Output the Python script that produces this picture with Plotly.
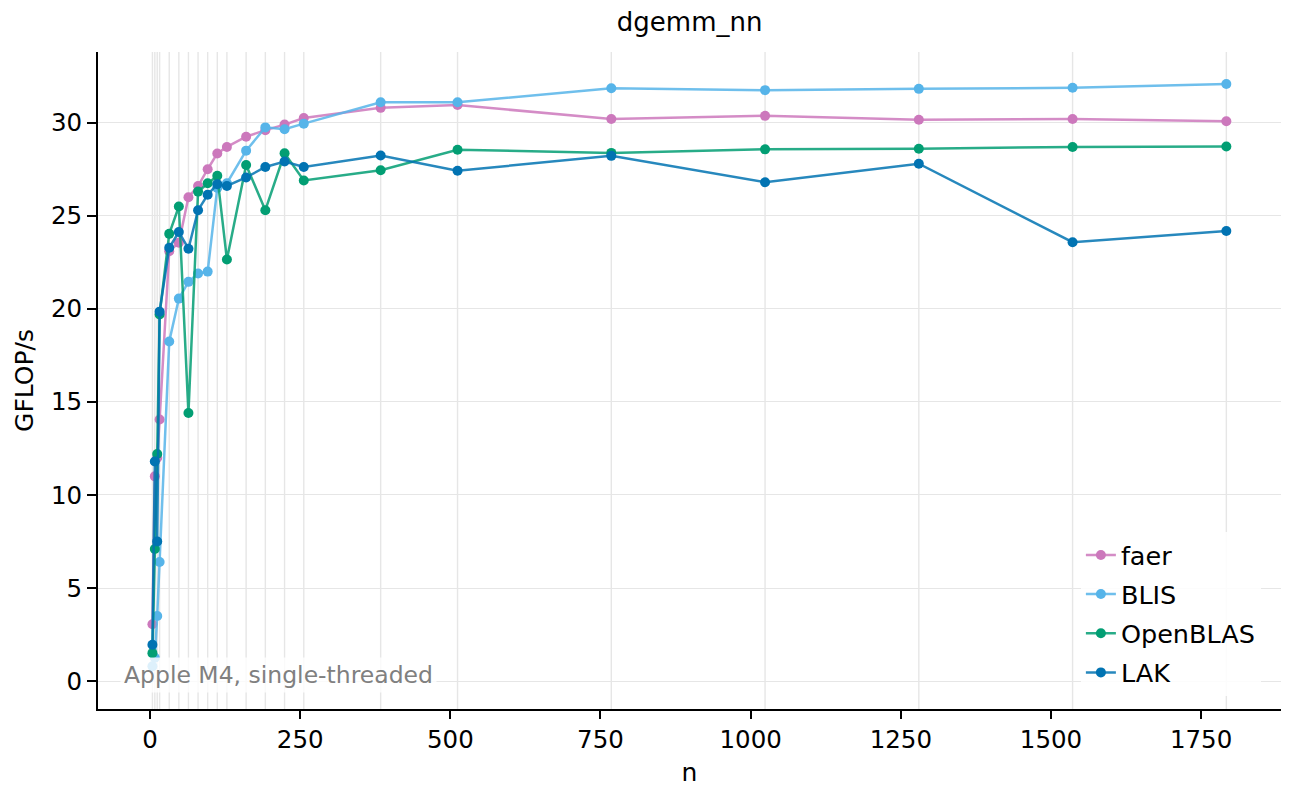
import plotly.graph_objects as go

n_values = [4, 8, 12, 16, 32, 48, 64, 80, 96, 112, 128, 160, 192, 224, 256,
            384, 512, 768, 1024, 1280, 1536, 1792]

faer = [3.05, 11.0, 12.0, 14.05, 23.1, 23.55, 26.0, 26.6, 27.5, 28.35, 28.7,
        29.25, 29.6, 29.9, 30.25, 30.8, 30.95, 30.2, 30.37, 30.16, 30.2, 30.08]
blis = [0.8, 1.25, 3.5, 6.4, 18.25, 20.55, 21.45, 21.9, 22.0, 26.5, 26.75,
        28.5, 29.75, 29.65, 29.95, 31.1, 31.1, 31.85, 31.75, 31.82, 31.88, 32.08]
openblas = [1.5, 7.1, 12.2, 19.7, 24.03, 25.5, 14.4, 26.3, 26.75, 27.15, 22.65,
            27.73, 25.3, 28.36, 26.9, 27.45, 28.55, 28.38, 28.57, 28.6, 28.7, 28.72]
lak = [1.95, 11.8, 7.5, 19.85, 23.28, 24.13, 23.23, 25.3, 26.13, 26.7, 26.6,
       27.06, 27.62, 27.92, 27.62, 28.24, 27.42, 28.22, 26.8, 27.8, 23.58, 24.18]

series_names = ["faer", "BLIS", "OpenBLAS", "LAK"]
series_values = [faer, blis, openblas, lak]
series_colors = ["#CC78BC", "#56B4E9", "#029E73", "#0173B2"]
line_colors = ["rgba(204,120,188,0.85)", "rgba(86,180,233,0.85)",
               "rgba(2,158,115,0.85)", "rgba(1,115,178,0.85)"]

x_ticks = [0, 250, 500, 750, 1000, 1250, 1500, 1750]
y_ticks = [0, 5, 10, 15, 20, 25, 30]

FONT = "DejaVu Sans"
GRID = "#e6e6e6"

fig = go.Figure()
for i, (name, vals, col, lcol) in enumerate(zip(series_names, series_values, series_colors, line_colors)):
    fig.add_trace(go.Scatter(
        x=n_values, y=vals, name=name, mode="lines+markers",
        line=dict(color=lcol, width=2.5),
        marker=dict(color=col, size=10),
        legendgroup=name,
    ))

for n in n_values:
    fig.add_vline(x=n, line=dict(color=GRID, width=1.4), layer="below")

fig.add_annotation(
    text="Apple M4, single-threaded",
    xref="x domain", yref="y domain", x=0.019, y=0.052,
    xanchor="left", yanchor="middle", showarrow=False,
    font=dict(family=FONT, size=23.5, color="#808080"),
    bgcolor="rgba(255,255,255,0.8)", borderpad=3,
)

# page body has an 8px margin: compensate so the plot area lands at x 98-1281, y 52-709
fig.update_layout(
    width=1291, height=792,
    margin=dict(l=90, r=18, t=44, b=91),
    paper_bgcolor="white", plot_bgcolor="white",
    font=dict(family=FONT, size=24, color="black"),
    title=dict(text="dgemm_nn", x=0.528, xanchor="center", y=0.982, yanchor="middle",
               font=dict(family=FONT, size=26, color="black")),
    legend=dict(x=0.983, xanchor="right", y=0.02, yanchor="bottom",
                bgcolor="rgba(255,255,255,0.85)", borderwidth=0,
                font=dict(family=FONT, size=25.5, color="black"),
                traceorder="grouped", tracegroupgap=3),
    showlegend=True,
)

fig.update_xaxes(
    range=[-86.6, 1883], tickvals=x_ticks, ticktext=[str(v) for v in x_ticks],
    showgrid=False, zeroline=False, showline=True, linecolor="black", linewidth=1.8,
    ticks="outside", ticklen=8, tickwidth=1.6, tickcolor="black",
    tickfont=dict(family=FONT, size=24.5, color="black"),
    title=dict(text="n", font=dict(family=FONT, size=25, color="black"), standoff=10),
)
fig.update_yaxes(
    range=[-1.5, 33.8], tickvals=y_ticks, ticktext=[str(v) for v in y_ticks],
    showgrid=True, gridcolor=GRID, gridwidth=1.4, zeroline=False,
    showline=True, linecolor="black", linewidth=1.8,
    ticks="outside", ticklen=9, tickwidth=1.6, tickcolor="black",
    tickfont=dict(family=FONT, size=24.5, color="black"),
    title=dict(text="GFLOP/s", font=dict(family=FONT, size=25, color="black"), standoff=10),
)

fig.write_html("out.html")
